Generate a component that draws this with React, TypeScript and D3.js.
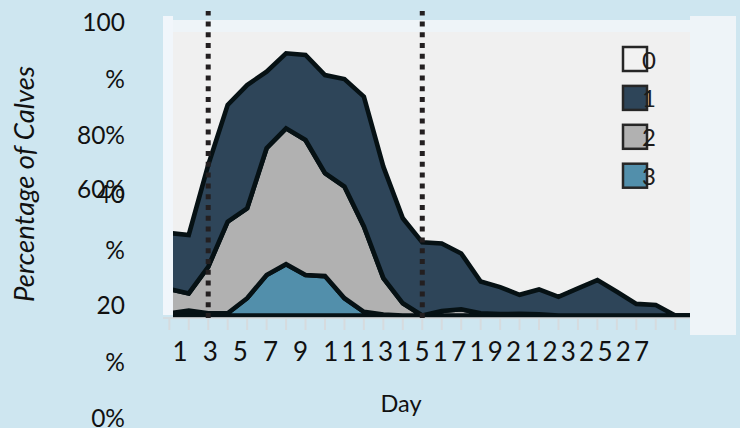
import React from "react";
import * as d3 from "d3";

const days = [1, 2, 3, 4, 5, 6, 7, 8, 9, 10, 11, 12, 13, 14, 15, 16, 17, 18, 19, 20, 21, 22, 23, 24, 25, 26, 27, 28];
// score 1 (dark), score 2 (gray), score 3 (blue), in % of calves
const score1 = [19.8, 20.6, 35.9, 41.2, 43.5, 27.0, 26.5, 30.0, 34.6, 37.9, 45.8, 39.3, 30.0, 25.8, 23.8, 19.7, 11.2, 9.5, 6.7, 8.8, 6.6, 9.6, 12.5, 8.4, 4.1, 3.7, 0, 0];
const score2 = [8.5, 6.1, 16.4, 32.3, 31.7, 44.7, 47.9, 47.6, 36.3, 39.4, 30.1, 12.9, 4.3, 0, 1.6, 2.2, 0.8, 0.5, 0.6, 0.4, 0, 0, 0, 0, 0, 0, 0, 0];
const score3 = [0.8, 1.7, 0.8, 0.8, 6.1, 14.3, 18.1, 14.3, 13.9, 6.1, 1.3, 0.3, 0, 0, 0, 0, 0, 0, 0, 0, 0, 0, 0, 0, 0, 0, 0, 0];
const legendKeys = ["0", "1", "2", "3"];
const xTickLabels = ["1", "3", "5", "7", "9", "11", "13", "15", "17", "19", "21", "23", "25", "27"];
const yTickLabels = ["100 %", "80%", "60%", "40 %", "20 %", "0%"];
const markerDays = [3, 14];

const colors: Record<string, string> = { "0": "#f2f2f2", "1": "#2e4559", "2": "#b1b1b1", "3": "#528fab" };
const yRows = [0, 2, 3, 3, 5, 7];
const yNudge = [0, 0, -3, 2, 0, 0];

export default function App() {
  const W = 740, H = 428;
  const x = d3.scaleLinear().domain([1, 28]).range([169.3, 694.7]);
  const y = d3.scaleLinear().domain([0, 100]).range([315.5, 32]);
  const rows = days.map((d, i) => ({ day: d, s3: score3[i], s2: score2[i], s1: score1[i] }));
  const layers = d3.stack<any>().keys(["s3", "s2", "s1"])(rows);
  const keyToLabel: Record<string, string> = { s1: "1", s2: "2", s3: "3" };
  const area = d3
    .area<any>()
    .x((d) => x(d.data.day))
    .y0((d) => y(d[0]))
    .y1((d) => y(d[1]));
  const plotL = 173, plotR = 690, plotT = 20, plotB = 318;
  const xLabelText = xTickLabels.map((l) => (l.length < 2 ? l + " " : l)).join("");

  return (
    <div style={{ position: "fixed", left: 0, top: 0, width: W, height: H, background: "#cee6f0" }}>
      <svg width={W} height={H} style={{ display: "block" }}>
        <defs>
          <clipPath id="plotclip">
            <rect x={plotL} y={0} width={plotR - plotL} height={plotB} />
          </clipPath>
        </defs>
        <rect x={0} y={0} width={W} height={H} fill="#cee6f0" />
        {/* panels */}
        <rect x={163} y={16} width={plotL - 163} height={315 - 16} fill="#f1f6fb" />
        <rect x={plotL} y={plotT} width={plotR - plotL} height={plotB - plotT} fill="#eef4f8" />
        <rect x={plotL} y={y(100)} width={plotR - plotL} height={y(0) - y(100)} fill="#f0f0f0" />
        {/* areas */}
        <g clipPath="url(#plotclip)">
          {layers.map((layer) => (
            <path
              key={layer.key}
              d={area(layer as any) || ""}
              fill={colors[keyToLabel[layer.key]]}
              stroke="#061114"
              strokeWidth={4.6}
              strokeLinejoin="miter"
            />
          ))}
        </g>
        {/* axis line + ticks */}
        <line x1={163} x2={plotR} y1={318} y2={318} stroke="#d6d9db" strokeWidth={1.5} />
        {days.map((d) => (
          <line key={d} x1={x(d)} x2={x(d)} y1={319} y2={330} stroke="#d6dbde" strokeWidth={2} />
        ))}
        {/* marker lines */}
        {markerDays.map((d) => (
          <line
            key={d}
            x1={x(d)}
            x2={x(d)}
            y1={318}
            y2={11}
            stroke="#231f20"
            strokeWidth={5}
            strokeDasharray="5 5.8"
          />
        ))}
        {/* right panel */}
        <rect x={690} y={16} width={46} height={335 - 16} fill="#eef4f8" />
        {/* legend */}
        {legendKeys.map((k, i) => (
          <g key={k} transform={`translate(623,${47 + i * 38.9})`}>
            <rect width={24} height={24} fill={colors[k]} stroke="#262626" strokeWidth={2.5} />
            <text x={19} y={21.5} fontFamily="Lato" fontSize={24} fill="#1c1c1c">
              {k}
            </text>
          </g>
        ))}
        {/* x tick labels */}
        <text
          x={172.5}
          y={361}
          fontFamily="Lato"
          fontSize={26}
          fill="#111"
          style={{ letterSpacing: "3.2px", wordSpacing: "2px", whiteSpace: "pre" }}
        >
          {xLabelText}
        </text>
        <text x={401} y={412} textAnchor="middle" fontFamily="Lato" fontSize={23.5} fill="#111">
          Day
        </text>
        {/* y tick labels */}
        {yTickLabels.map((lab, i) =>
          lab.split(" ").map((ln, j) => (
            <text
              key={i + "-" + j}
              x={125}
              y={31 + (yRows[i] + j) * 56.6 + yNudge[i]}
              textAnchor="end"
              fontFamily="Lato"
              fontSize={24.5}
              fill="#111"
            >
              {ln}
            </text>
          ))
        )}
        <text
          transform="translate(34,184) rotate(-90)"
          textAnchor="middle"
          fontFamily="Lato"
          fontStyle="italic"
          fontSize={27.5}
          fill="#111"
        >
          Percentage of Calves
        </text>
      </svg>
    </div>
  );
}
